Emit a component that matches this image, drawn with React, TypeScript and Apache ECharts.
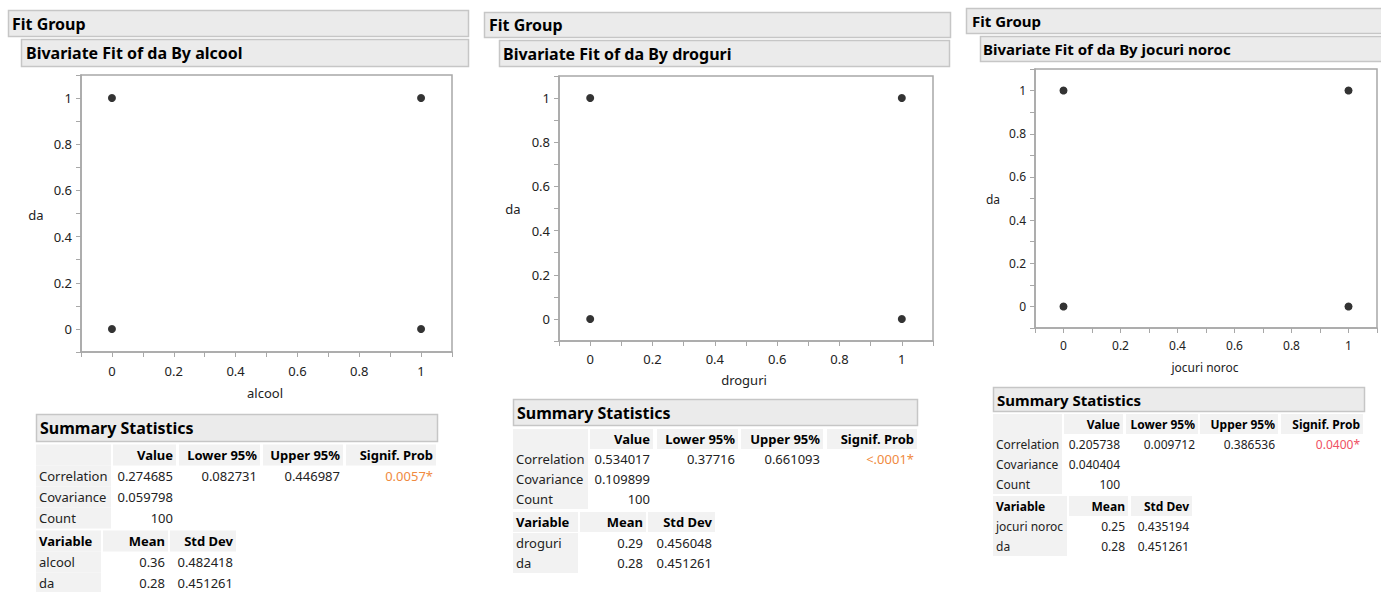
import React, { useEffect, useRef } from "react";
import * as echarts from "echarts";

// ---------- data ----------
const xPoints = [0, 0, 1, 1];
const yPoints = [1, 0, 1, 0];
const yVar = "da";
const xVars = ["alcool", "droguri", "jocuri noroc"];
const tickLabels = [0, 0.2, 0.4, 0.6, 0.8, 1];
const statHeaders = ["", "Value", "Lower 95%", "Upper 95%", "Signif. Prob"];
const varHeaders = ["Variable", "Mean", "Std Dev"];
const correlation = [0.274685, 0.534017, 0.205738];
const lower95 = [0.082731, 0.37716, 0.009712];
const upper95 = [0.446987, 0.661093, 0.386536];
const signifProb = ["0.0057*", "<.0001*", "0.0400*"];
const covariance = [0.059798, 0.109899, 0.040404];
const counts = [100, 100, 100];
const xMeans = [0.36, 0.29, 0.25];
const xStdDevs = [0.482418, 0.456048, 0.435194];
const yMean = 0.28;
const yStdDev = 0.451261;

// ---------- layout / style ----------
const FONT = '"Noto Sans", "Open Sans", sans-serif';
const signifColors = ["#f08a40", "#f08a40", "#ef4f63"];

type Box = [number, number, number, number];
type Layout = {
  fs: number;
  titleFs: number;
  fit: Box;
  fitTx: number;
  biv: Box;
  bivTx: number;
  grid: Box;
  yName: [number, number];
  xName: [number, number];
  xLabelMargin: number;
  sum: Box;
  sumTx: number;
  rowY: number[];
  varRowY: number[];
  rowH: number;
  cols: [number, number][];
  varCols: [number, number][];
};

const layouts: Layout[] = [
  {
    fs: 13, titleFs: 16,
    fit: [8, 10, 460, 26], fitTx: 12,
    biv: [21, 39, 447, 27], bivTx: 26,
    grid: [81, 75, 371, 277],
    yName: [36, 215], xName: [265, 393], xLabelMargin: 12,
    sum: [36, 414, 401, 27], sumTx: 40,
    rowY: [455, 476, 497, 518], varRowY: [541, 562, 583], rowH: 21,
    cols: [[36, 111], [113, 176], [179, 260], [263, 343], [346, 436]],
    varCols: [[36, 101], [103, 168], [170, 236]],
  },
  {
    fs: 13, titleFs: 16,
    fit: [484, 12, 466, 25], fitTx: 489,
    biv: [499, 40, 450, 26], bivTx: 503,
    grid: [559, 76, 374, 265],
    yName: [513, 209], xName: [744, 380], xLabelMargin: 11,
    sum: [513, 399, 404, 26], sumTx: 517,
    rowY: [439, 459, 479, 499], varRowY: [522, 543, 563], rowH: 20,
    cols: [[513, 588], [590, 653], [657, 738], [741, 823], [827, 917]],
    varCols: [[513, 578], [580, 646], [648, 715]],
  },
  {
    fs: 12, titleFs: 15,
    fit: [966, 8, 430, 25], fitTx: 972,
    biv: [980, 36, 420, 25], bivTx: 983,
    grid: [1035, 69, 342, 259],
    yName: [993, 199], xName: [1205, 367], xLabelMargin: 11,
    sum: [993, 387, 371, 24], sumTx: 997,
    rowY: [424, 444, 464, 484], varRowY: [506, 526, 546], rowH: 20,
    cols: [[993, 1062], [1064, 1123], [1126, 1198], [1200, 1278], [1281, 1363]],
    varCols: [[993, 1067], [1069, 1128], [1131, 1192]],
  },
];

const HEADER_BG = "#ebebeb";
const HEADER_BORDER = "#c6c6c6";
const CELL_BG = "#f2f2f2";
const AXIS_COLOR = "#a8a8a8";
const TEXT_COLOR = "#222";

function headerBox(b: Box, tx: number, text: string, fs: number): any[] {
  return [
    {
      type: "rect",
      shape: { x: b[0] + 0.5, y: b[1] + 0.5, width: b[2], height: b[3] },
      style: { fill: HEADER_BG, stroke: HEADER_BORDER, lineWidth: 1.5 },
      silent: true,
    },
    {
      type: "text",
      x: tx,
      y: b[1] + b[3] / 2 + 0.5,
      style: {
        text,
        fill: "#000",
        font: `bold ${fs}px ${FONT}`,
        align: "left",
        verticalAlign: "middle",
      },
      silent: true,
    },
  ];
}

function tableEls(
  cols: [number, number][],
  rowsY: number[],
  rowH: number,
  rows: string[][],
  fs: number,
  colorFn: (r: number, c: number) => string
): any[] {
  const els: any[] = [];
  rows.forEach((row, r) => {
    row.forEach((cell, c) => {
      const [x0, x1] = cols[c];
      const cy = rowsY[r];
      const isHeader = r === 0;
      const isLabel = c === 0;
      if (isHeader || isLabel) {
        els.push({
          type: "rect",
          shape: { x: x0, y: cy - rowH / 2, width: x1 - x0, height: rowH },
          style: { fill: CELL_BG },
          silent: true,
        });
      }
      if (cell !== "") {
        els.push({
          type: "text",
          x: isLabel ? x0 + 3 : x1 - 3,
          y: cy,
          style: {
            text: cell,
            fill: colorFn(r, c),
            font: `${isHeader ? "bold " : ""}${fs}px ${FONT}`,
            align: isLabel ? "left" : "right",
            verticalAlign: "middle",
          },
          silent: true,
        });
      }
    });
  });
  return els;
}

function fmtTick(v: number): string {
  const hit = tickLabels.find((t) => Math.abs(t - v) < 1e-6);
  return hit === undefined ? "" : String(hit);
}

export default function App() {
  const ref = useRef<HTMLDivElement>(null);

  useEffect(() => {
    if (!ref.current) return;
    const chart = echarts.init(ref.current, undefined, { renderer: "svg" });

    const grids: any[] = [];
    const xAxes: any[] = [];
    const yAxes: any[] = [];
    const series: any[] = [];
    let graphics: any[] = [];

    layouts.forEach((L, i) => {
      grids.push({
        left: L.grid[0],
        top: L.grid[1],
        width: L.grid[2],
        height: L.grid[3],
        show: true,
        backgroundColor: "#fff",
        borderColor: AXIS_COLOR,
        borderWidth: 1.5,
      });
      const axisCommon = {
        type: "value",
        min: -0.1,
        max: 1.1,
        interval: 0.1,
        axisLine: { show: true, onZero: false, lineStyle: { color: AXIS_COLOR, width: 1.5 } },
        axisTick: { show: true, length: 5, lineStyle: { color: AXIS_COLOR } },
        splitLine: { show: false },
      };
      xAxes.push({
        ...axisCommon,
        gridIndex: i,
        axisLabel: {
          formatter: fmtTick,
          color: TEXT_COLOR,
          fontSize: L.fs,
          fontFamily: FONT,
          margin: L.xLabelMargin,
          showMinLabel: true,
          showMaxLabel: true,
          hideOverlap: false,
        },
      });
      yAxes.push({
        ...axisCommon,
        gridIndex: i,
        axisLabel: {
          formatter: fmtTick,
          color: TEXT_COLOR,
          fontSize: L.fs,
          fontFamily: FONT,
          margin: 9,
          showMinLabel: true,
          showMaxLabel: true,
          hideOverlap: false,
        },
      });
      series.push({
        type: "scatter",
        xAxisIndex: i,
        yAxisIndex: i,
        symbol: "circle",
        symbolSize: 8,
        itemStyle: { color: "#000" },
        data: xPoints.map((x, k) => [x, yPoints[k]]),
      });

      graphics = graphics.concat(headerBox(L.fit, L.fitTx, "Fit Group", L.titleFs));
      graphics = graphics.concat(
        headerBox(L.biv, L.bivTx, `Bivariate Fit of ${yVar} By ${xVars[i]}`, L.titleFs)
      );
      graphics = graphics.concat(headerBox(L.sum, L.sumTx, "Summary Statistics", L.titleFs));

      graphics.push({
        type: "text",
        x: L.yName[0],
        y: L.yName[1],
        style: { text: yVar, fill: TEXT_COLOR, font: `${L.fs}px ${FONT}`, align: "center", verticalAlign: "middle" },
        silent: true,
      });
      graphics.push({
        type: "text",
        x: L.xName[0],
        y: L.xName[1],
        style: { text: xVars[i], fill: TEXT_COLOR, font: `${L.fs}px ${FONT}`, align: "center", verticalAlign: "middle" },
        silent: true,
      });

      const statRows = [
        statHeaders,
        ["Correlation", String(correlation[i]), String(lower95[i]), String(upper95[i]), signifProb[i]],
        ["Covariance", String(covariance[i]), "", "", ""],
        ["Count", String(counts[i]), "", "", ""],
      ];
      graphics = graphics.concat(
        tableEls(L.cols, L.rowY, L.rowH, statRows, L.fs, (r, c) =>
          r === 1 && c === 4 ? signifColors[i] : r === 0 ? "#000" : TEXT_COLOR
        )
      );
      const varRows = [
        varHeaders,
        [xVars[i], String(xMeans[i]), String(xStdDevs[i])],
        [yVar, String(yMean), String(yStdDev)],
      ];
      graphics = graphics.concat(
        tableEls(L.varCols, L.varRowY, L.rowH, varRows, L.fs, (r) => (r === 0 ? "#000" : TEXT_COLOR))
      );
    });

    chart.setOption({
      animation: false,
      backgroundColor: "#fff",
      grid: grids,
      xAxis: xAxes,
      yAxis: yAxes,
      series,
      graphic: { elements: graphics },
    });

    return () => chart.dispose();
  }, []);

  return (
    <div
      ref={ref}
      style={{ position: "absolute", left: 0, top: 0, width: 1381, height: 592, background: "#fff" }}
    />
  );
}
